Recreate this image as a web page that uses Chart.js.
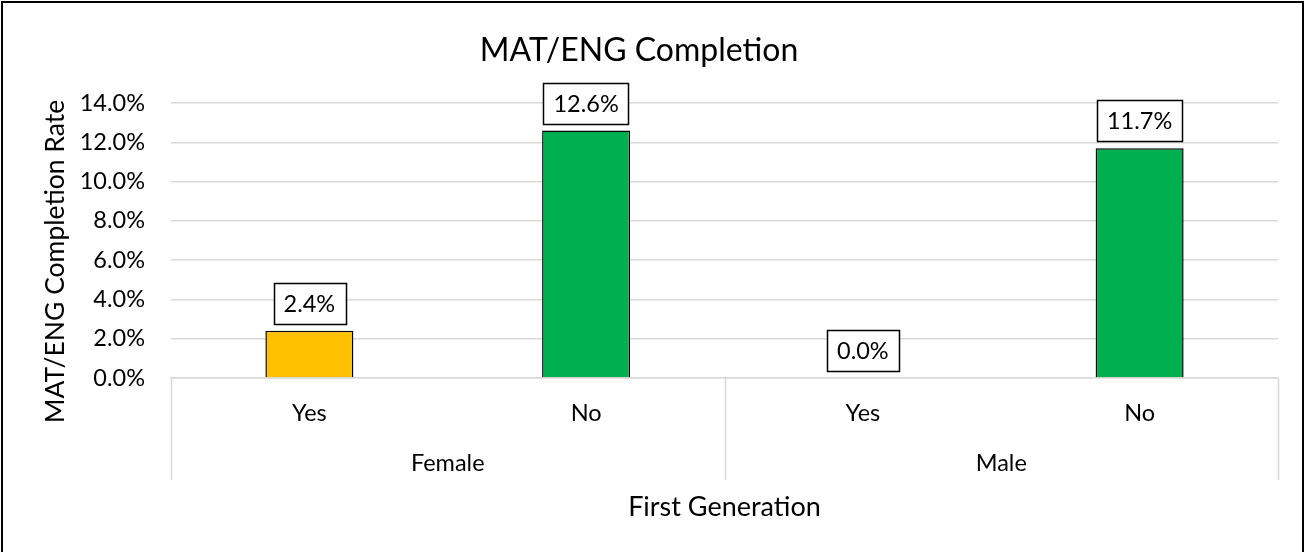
<!DOCTYPE html>
<html>
<head>
<meta charset="utf-8">
<title>MAT/ENG Completion</title>
<script src="https://cdn.jsdelivr.net/npm/chart.js@4.4.1/dist/chart.umd.min.js"></script>
<style>
  html, body { margin: 0; padding: 0; background: #fff; }
  #wrap { position: relative; width: 1310px; height: 552px; }
  #frame { position: absolute; left: 1px; top: 1px; width: 1303px; height: 560px; border: 2px solid #000; box-sizing: border-box; pointer-events: none; }
</style>
</head>
<body>
<div id="wrap">
  <canvas id="grafico" width="1310" height="552"></canvas>
  <div id="frame"></div>
</div>
<script>
// dados do gráfico
const subCategorias = ["Yes", "No", "Yes", "No"];
const grupos = ["Female", "Male"];
const taxas = [2.4, 12.6, 0.0, 11.7];
const coresBarras = ["#FFC000", "#00B050", "#FFC000", "#00B050"];
const ticksY = [0, 2, 4, 6, 8, 10, 12, 14];
const tituloY = "MAT/ENG Completion Rate";

const fonte = "Lato, 'Open Sans', sans-serif";

// caixas com os valores acima das barras
const rotulosPlugin = {
    id: "rotulos",
    afterDatasetsDraw(chart) {
        const ctx = chart.ctx;
        const meta = chart.getDatasetMeta(0);
        ctx.save();
        ctx.font = "23.5px " + fonte;
        ctx.textAlign = "center";
        ctx.textBaseline = "middle";
        meta.data.forEach((bar, i) => {
            const texto = taxas[i].toFixed(1) + "%";
            const w = ctx.measureText(texto).width + 20;
            const h = 41;
            const base = bar.y - 7;
            ctx.fillStyle = "#fff";
            ctx.fillRect(bar.x - w / 2, base - h, w, h);
            ctx.strokeStyle = "#000";
            ctx.lineWidth = 1.5;
            ctx.strokeRect(Math.round(bar.x - w / 2) + 0.5, Math.round(base - h) + 0.5, Math.round(w), h);
            ctx.fillStyle = "#000";
            ctx.fillText(texto, bar.x, base - h / 2 + 1);
        });
        ctx.restore();
    }
};

// linhas verticais do eixo com dois níveis + título do eixo Y (centrado como no Excel)
const divisoesPlugin = {
    id: "divisoes",
    afterDraw(chart) {
        const ctx = chart.ctx;
        const x = chart.scales.x;
        const topo = chart.chartArea.bottom;
        const fim = chart.scales.x2.top + 37;
        ctx.save();
        ctx.strokeStyle = "#d9d9d9";
        ctx.lineWidth = 1.5;
        [-0.5, 1.5, 3.5].forEach(v => {
            const px = Math.round(x.getPixelForValue(v)) + 0.5;
            ctx.beginPath();
            ctx.moveTo(px, topo);
            ctx.lineTo(px, fim);
            ctx.stroke();
        });

        const meio = (chart.chartArea.top + fim) / 2;
        ctx.translate(55, meio - 30);
        ctx.rotate(-Math.PI / 2);
        ctx.font = "26.5px " + fonte;
        ctx.fillStyle = "#000";
        ctx.textAlign = "center";
        ctx.textBaseline = "middle";
        ctx.fillText(tituloY, 0, 0);
        ctx.restore();
    }
};

const ctx = document.getElementById("grafico").getContext("2d");

new Chart(ctx, {
    type: "bar",
    data: {
        labels: subCategorias,
        datasets: [{
            label: tituloY,
            data: taxas,
            backgroundColor: coresBarras,
            borderColor: "#000",
            borderWidth: taxas.map(v => v === 0 ? 0 : 1.5),
            barPercentage: 0.318,
            categoryPercentage: 1
        }]
    },
    options: {
        responsive: false,
        animation: false,
        layout: { padding: { left: 0, right: 32, top: 0, bottom: 25 } },
        plugins: {
            legend: { display: false },
            tooltip: { enabled: false },
            title: {
                display: true,
                text: "MAT/ENG Completion",
                color: "#000",
                font: { family: fonte, size: 32, weight: "normal" },
                padding: { top: 31, bottom: 33.6 }
            }
        },
        scales: {
            x: {
                position: "bottom",
                weight: 0,
                grid: { display: false, drawTicks: false },
                border: { display: true, color: "#d9d9d9", width: 1.5 },
                ticks: { color: "#000", font: { family: fonte, size: 23.5 }, padding: 21, maxRotation: 0 },
                afterFit(scale) { scale.height = 65; }
            },
            x2: {
                type: "category",
                labels: grupos,
                position: "bottom",
                weight: 1,
                grid: { display: false, drawTicks: false },
                border: { display: false },
                ticks: { color: "#000", font: { family: fonte, size: 23.5 }, padding: 6, maxRotation: 0 },
                title: {
                    display: true,
                    text: "First Generation",
                    color: "#000",
                    font: { family: fonte, size: 27 },
                    padding: { top: 0, bottom: 4 }
                },
                afterFit(scale) { scale.height = 84; }
            },
            y: {
                min: 0,
                max: 14,
                afterBuildTicks(scale) { scale.ticks = ticksY.map(v => ({ value: v })); },
                grid: { color: "#d9d9d9", lineWidth: 1.5, drawTicks: false },
                border: { display: false },
                ticks: {
                    color: "#000",
                    font: { family: fonte, size: 23.5 },
                    padding: 26,
                    callback: v => v.toFixed(1) + "%"
                },
                afterFit(scale) { scale.width = 171; }
            }
        }
    },
    plugins: [rotulosPlugin, divisoesPlugin]
});
</script>
</body>
</html>
